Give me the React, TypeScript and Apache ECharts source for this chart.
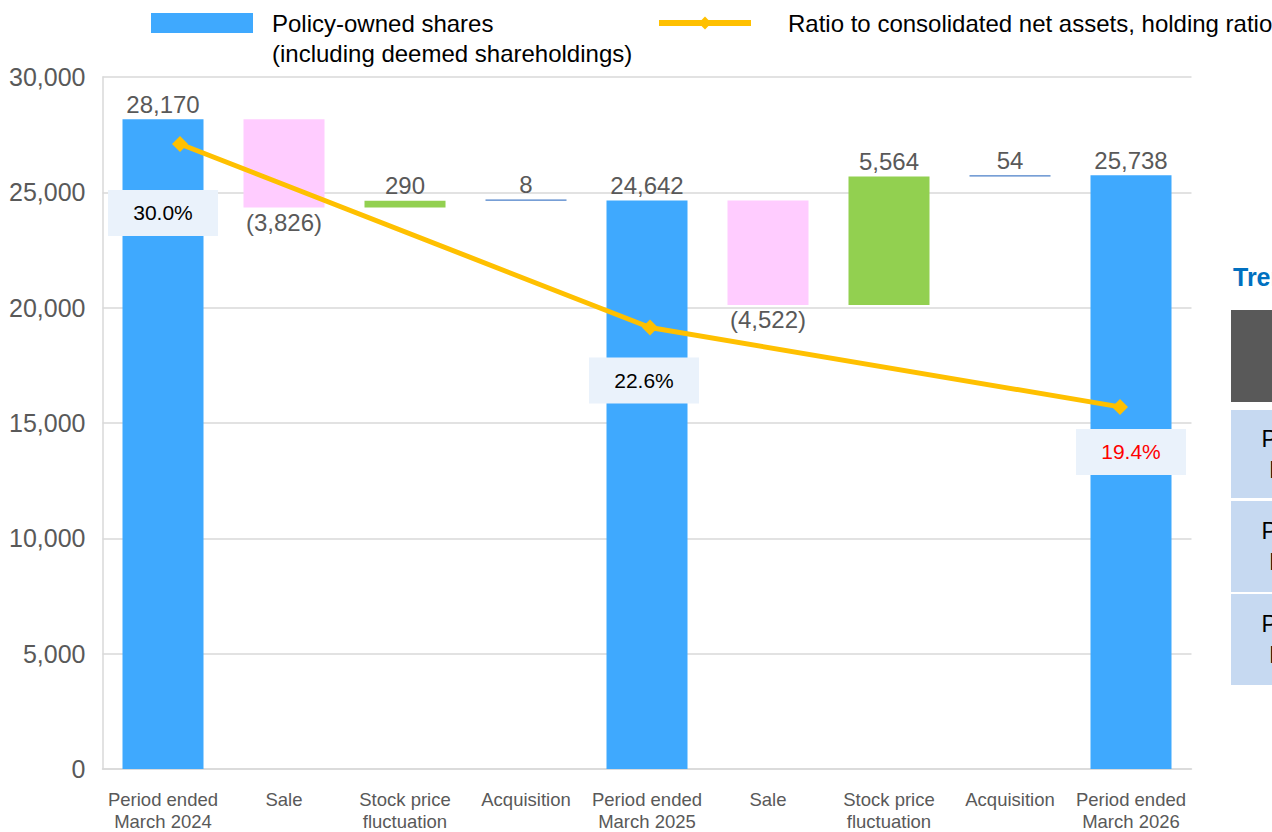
import React, { useEffect, useRef } from "react";
import * as echarts from "echarts";

const categories = [
  "Period ended\nMarch 2024",
  "Sale",
  "Stock price\nfluctuation",
  "Acquisition",
  "Period ended\nMarch 2025",
  "Sale",
  "Stock price\nfluctuation",
  "Acquisition",
  "Period ended\nMarch 2026",
];
const kinds = ["total", "sale", "fluct", "acq", "total", "sale", "fluct", "acq", "total"];
const amounts = [28170, -3826, 290, 8, 24642, -4522, 5564, 54, 25738];

const ratioPeriods = ["March 2024", "March 2025", "March 2026"];
const ratioValues = [30.0, 22.6, 19.4];
const ratioLabelColors = ["#000000", "#000000", "#FF0000"];
const ratioLabelOffsets = [
  [-17, 69],
  [-6, 53],
  [11, 45],
];

const yTicks = { min: 0, max: 30000, interval: 5000 };

const tableRows = ["Period ended\nMarch 2024", "Period ended\nMarch 2025", "Period ended\nMarch 2026"];

const COLORS: Record<string, string> = {
  total: "#3FA9FE",
  sale: "#FFCCFF",
  fluct: "#92D050",
  acq: "#4A7FC8",
};

const fmt = (v: number) => Math.abs(v).toLocaleString("en-US");

export default function App() {
  const ref = useRef<HTMLDivElement>(null);
  useEffect(() => {
    document.body.style.margin = "0";
    if (!ref.current) return;
    const chart = echarts.init(ref.current, undefined, { renderer: "svg" });

    const bases: number[] = [];
    const heights: any[] = [];
    let running = 0;
    amounts.forEach((v, i) => {
      const k = kinds[i];
      let base = 0;
      if (k === "total") {
        base = 0;
        running = v;
      } else if (v < 0) {
        running += v;
        base = running;
      } else {
        base = running;
        running += v;
      }
      bases.push(base);
      heights.push({
        value: Math.abs(v),
        itemStyle: { color: COLORS[k] },
        label: {
          show: true,
          position: k === "sale" ? "bottom" : "top",
          formatter: k === "sale" ? `(${fmt(v)})` : fmt(v),
        },
      });
    });

    const lineData = ratioValues.map((v, i) => ({
      value: v,
      label: {
        show: true,
        position: "inside",
        offset: ratioLabelOffsets[i],
        color: ratioLabelColors[i],
        formatter: v.toFixed(1) + "%",
      },
    }));

    const font = "Liberation Sans, Arial, sans-serif";

    const option: any = {
      animation: false,
      textStyle: { fontFamily: font },
      grid: [
        { left: 102.5, right: 80.5, top: 77, bottom: 59 },
        { left: 180, right: 152, top: 77, bottom: 59 },
      ],
      legend: [
        {
          data: [{ name: "Policy-owned shares", icon: "rect" }],
          left: 151,
          top: 11,
          padding: 0,
          itemWidth: 102,
          itemHeight: 20,
          selectedMode: false,
          textStyle: { fontSize: 24, color: "#000", padding: [0, 0, 0, 14], fontFamily: font },
        },
        {
          data: ["Ratio to consolidated net assets, holding ratio"],
          left: 656,
          top: 11,
          padding: 0,
          itemWidth: 92,
          itemHeight: 16,
          selectedMode: false,
          lineStyle: { width: 6, color: "#FFC000" },
          itemStyle: { color: "#FFC000" },
          textStyle: { fontSize: 24, color: "#000", padding: [0, 0, 0, 32], fontFamily: font },
        },
      ],
      xAxis: [
        {
          type: "category",
          data: categories,
          gridIndex: 0,
          axisTick: { show: false },
          axisLine: { lineStyle: { color: "#D9D9D9", width: 1.5 } },
          axisLabel: { color: "#595959", fontSize: 18.5, lineHeight: 22, margin: 19, interval: 0, fontFamily: font },
        },
        {
          type: "category",
          data: ratioPeriods,
          gridIndex: 1,
          boundaryGap: false,
          show: false,
        },
      ],
      yAxis: [
        {
          type: "value",
          gridIndex: 0,
          min: yTicks.min,
          max: yTicks.max,
          interval: yTicks.interval,
          axisLine: { show: true, lineStyle: { color: "#D9D9D9", width: 1.5 } },
          axisTick: { show: false },
          splitLine: { lineStyle: { color: "#D9D9D9", width: 1.5 } },
          axisLabel: {
            color: "#595959",
            fontSize: 25,
            margin: 17,
            formatter: (v: number) => v.toLocaleString("en-US"),
            fontFamily: font,
          },
        },
        {
          type: "value",
          gridIndex: 1,
          min: 4.64,
          max: 32.7,
          show: false,
          splitLine: { show: false },
        },
      ],
      series: [
        {
          type: "bar",
          name: "base",
          stack: "w",
          xAxisIndex: 0,
          yAxisIndex: 0,
          data: bases,
          barWidth: 81,
          itemStyle: { color: "transparent" },
          silent: true,
        },
        {
          type: "bar",
          name: "Policy-owned shares",
          stack: "w",
          xAxisIndex: 0,
          yAxisIndex: 0,
          data: heights,
          barWidth: 81,
          barMinHeight: 1.2,
          itemStyle: { color: COLORS.total },
          label: { color: "#595959", fontSize: 24, distance: 3, fontFamily: font },
        },
        {
          type: "line",
          name: "Ratio to consolidated net assets, holding ratio",
          xAxisIndex: 1,
          yAxisIndex: 1,
          data: lineData,
          symbol: "diamond",
          symbolSize: 16,
          lineStyle: { color: "#FFC000", width: 5 },
          itemStyle: { color: "#FFC000" },
          label: {
            fontSize: 21,
            backgroundColor: "#EAF2FB",
            width: 110,
            height: 46,
            lineHeight: 46,
            align: "center",
            verticalAlign: "middle",
            fontFamily: font,
          },
          z: 5,
        },
      ],
      graphic: [
        {
          type: "text",
          left: 272,
          top: 41,
          style: { text: "(including deemed shareholdings)", fill: "#000", font: `24px ${font}` },
        },
        {
          type: "text",
          x: 1233,
          y: 277,
          style: {
            text: "Trends",
            fill: "#0070C0",
            font: `bold 25px ${font}`,
            verticalAlign: "middle",
          },
        },
        { type: "rect", shape: { x: 1231, y: 310, width: 60, height: 92 }, style: { fill: "#595959" } },
        { type: "rect", shape: { x: 1231, y: 410, width: 60, height: 88 }, style: { fill: "#C6D9F1" } },
        { type: "rect", shape: { x: 1231, y: 501, width: 60, height: 91 }, style: { fill: "#C6D9F1" } },
        { type: "rect", shape: { x: 1231, y: 594, width: 60, height: 91 }, style: { fill: "#C6D9F1" } },
        ...tableRows.map((t, i) => ({
          type: "text",
          x: 1330,
          y: [454, 546, 639][i],
          style: {
            text: t,
            fill: "#000",
            font: `23px ${font}`,
            align: "center",
            verticalAlign: "middle",
            lineHeight: 31,
          },
        })),
      ],
    };
    chart.setOption(option);
    return () => chart.dispose();
  }, []);
  return <div ref={ref} style={{ width: 1272, height: 832 }} />;
}
